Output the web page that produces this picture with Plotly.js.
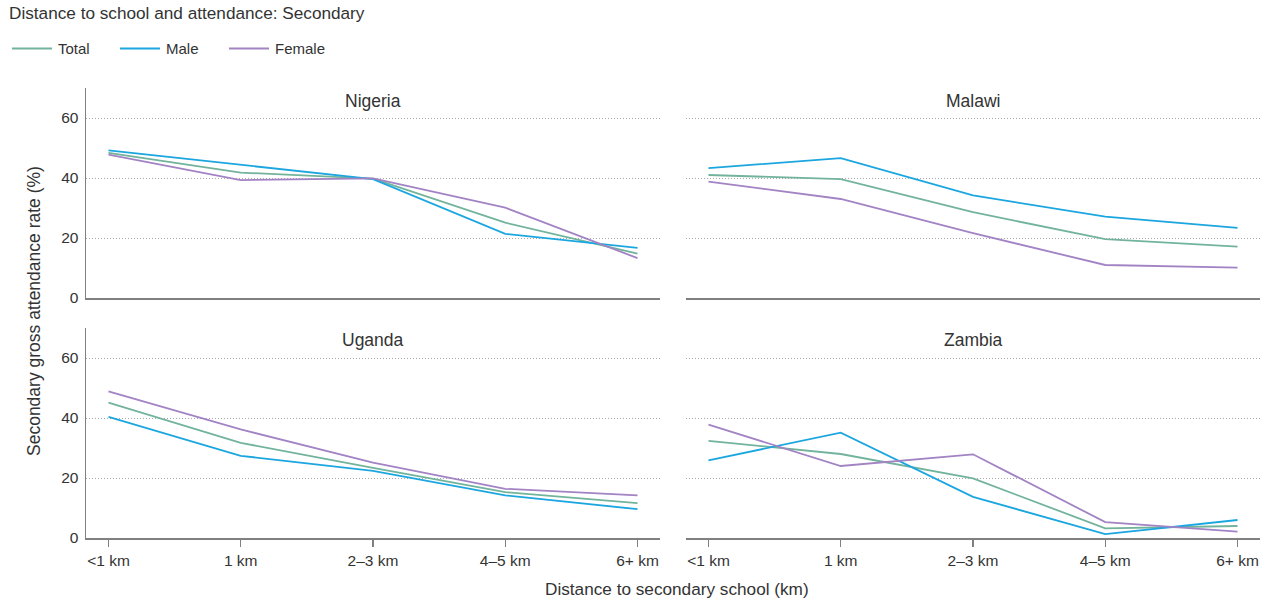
<!DOCTYPE html>
<html>
<head>
<meta charset="utf-8">
<script src="https://cdn.plot.ly/plotly-3.0.1.min.js"></script>
<style>html,body{margin:0;padding:0;background:#fff;}#chart{width:1266px;height:598px;}</style>
</head>
<body>
<div id="chart"></div>
<script>
// Data
const categories = ["<1 km", "1 km", "2–3 km", "4–5 km", "6+ km"];
const countries = ["Nigeria", "Malawi", "Uganda", "Zambia"];
const seriesNames = ["Total", "Male", "Female"];
const nigeriaTotal = [48.4, 41.8, 39.8, 25.1, 14.8];
const nigeriaMale = [49.2, 44.3, 39.6, 21.4, 16.7];
const nigeriaFemale = [47.8, 39.3, 39.9, 30.1, 13.3];
const malawiTotal = [41.0, 39.6, 28.6, 19.6, 17.1];
const malawiMale = [43.3, 46.6, 34.2, 27.1, 23.4];
const malawiFemale = [38.8, 33.0, 21.6, 11.0, 10.1];
const ugandaTotal = [45.1, 31.7, 23.4, 15.3, 11.6];
const ugandaMale = [40.4, 27.4, 22.4, 14.2, 9.6];
const ugandaFemale = [48.9, 36.2, 25.1, 16.4, 14.2];
const zambiaTotal = [32.4, 28.0, 19.9, 3.2, 4.0];
const zambiaMale = [25.9, 35.1, 13.7, 1.3, 6.0];
const zambiaFemale = [37.8, 24.0, 27.9, 5.3, 2.1];
const yTickVals = [0, 20, 40, 60];

const colors = {Total: "#72b39b", Male: "#1ba6e0", Female: "#a283c4"};
const dataByCountry = {
  Nigeria: [nigeriaTotal, nigeriaMale, nigeriaFemale],
  Malawi: [malawiTotal, malawiMale, malawiFemale],
  Uganda: [ugandaTotal, ugandaMale, ugandaFemale],
  Zambia: [zambiaTotal, zambiaMale, zambiaFemale]
};
const axisIds = [["x", "y"], ["x2", "y2"], ["x3", "y3"], ["x4", "y4"]];

const traces = [];
countries.forEach((c, ci) => {
  seriesNames.forEach((s, si) => {
    traces.push({
      type: "scatter", mode: "lines",
      x: categories, y: dataByCountry[c][si],
      name: s, showlegend: false,
      line: {color: colors[s], width: 1.8},
      xaxis: axisIds[ci][0], yaxis: axisIds[ci][1],
      hoverinfo: "skip"
    });
  });
});

const W = 1266, H = 598;
const px = v => v / W, py = v => 1 - v / H;
const leftDom = [px(86), px(660)], rightDom = [px(686), px(1260)];
const topDom = [py(298), py(88)], botDom = [py(538), py(328)];
const FAM = "Liberation Sans, Arial, sans-serif";
const fnt = {family: FAM, size: 15.5, color: "#333"};

function xax(dom, anchor, showLabels) {
  return {
    domain: dom, anchor: anchor, type: "category",
    range: [-0.17, 4.17], showgrid: false, zeroline: false,
    showline: true, linecolor: "#808080", linewidth: 1.5,
    ticks: showLabels ? "outside" : "", ticklen: 7, tickcolor: "#808080", tickwidth: 1.3,
    showticklabels: showLabels, tickfont: fnt, ticklabelstandoff: 1, fixedrange: true
  };
}
function yax(dom, anchor, left) {
  return {
    domain: dom, anchor: anchor, range: [0, 70],
    tickvals: yTickVals, showgrid: true, gridcolor: "#a8a8a8", griddash: "1px,2px", gridwidth: 1,
    zeroline: false, showline: left, linecolor: "#808080", linewidth: 1.5,
    ticks: "", showticklabels: left, tickfont: fnt, ticklabelstandoff: 3, fixedrange: true
  };
}

const annotations = [
  {text: "Nigeria", x: (leftDom[0]+leftDom[1])/2, y: py(101)},
  {text: "Malawi", x: (rightDom[0]+rightDom[1])/2, y: py(101)},
  {text: "Uganda", x: (leftDom[0]+leftDom[1])/2, y: py(340)},
  {text: "Zambia", x: (rightDom[0]+rightDom[1])/2, y: py(340)}
].map(a => Object.assign(a, {xref: "paper", yref: "paper", showarrow: false,
  xanchor: "center", yanchor: "middle", font: {family: FAM, size: 17.5, color: "#333"}}));

annotations.push({text: "Distance to secondary school (km)", xref: "paper", yref: "paper",
  x: px(677), y: py(589), showarrow: false, xanchor: "center", yanchor: "middle",
  font: {family: FAM, size: 17.2, color: "#333"}});
annotations.push({text: "Secondary gross attendance rate (%)", xref: "paper", yref: "paper",
  x: px(34), y: py(311), showarrow: false, textangle: -90, xanchor: "center", yanchor: "middle",
  font: {family: FAM, size: 17.5, color: "#333"}});
annotations.push({text: "Distance to school and attendance: Secondary", xref: "paper", yref: "paper",
  x: px(7), y: py(12.5), showarrow: false, xanchor: "left", yanchor: "middle",
  font: {family: FAM, size: 17.2, color: "#333"}});

// custom legend
const shapes = [];
const legendX = [12, 120, 229];
seriesNames.forEach((s, i) => {
  shapes.push({type: "line", xref: "paper", yref: "paper",
    x0: px(legendX[i]), x1: px(legendX[i] + 40), y0: py(48.5), y1: py(48.5),
    line: {color: colors[s], width: 1.8}});
  annotations.push({text: s, xref: "paper", yref: "paper", x: px(legendX[i] + 44), y: py(48.5),
    showarrow: false, xanchor: "left", yanchor: "middle",
    font: {family: FAM, size: 15, color: "#333"}});
});

const layout = {
  width: W, height: H,
  margin: {l: 0, r: 0, t: 0, b: 0},
  paper_bgcolor: "#fff", plot_bgcolor: "#fff",
  font: fnt,
  showlegend: false,
  xaxis: xax(leftDom, "y", false),
  yaxis: yax(topDom, "x", true),
  xaxis2: xax(rightDom, "y2", false),
  yaxis2: yax(topDom, "x2", false),
  xaxis3: xax(leftDom, "y3", true),
  yaxis3: yax(botDom, "x3", true),
  xaxis4: xax(rightDom, "y4", true),
  yaxis4: yax(botDom, "x4", false),
  annotations: annotations,
  shapes: shapes
};

Plotly.newPlot("chart", traces, layout, {displayModeBar: false, staticPlot: true});
</script>
</body>
</html>
